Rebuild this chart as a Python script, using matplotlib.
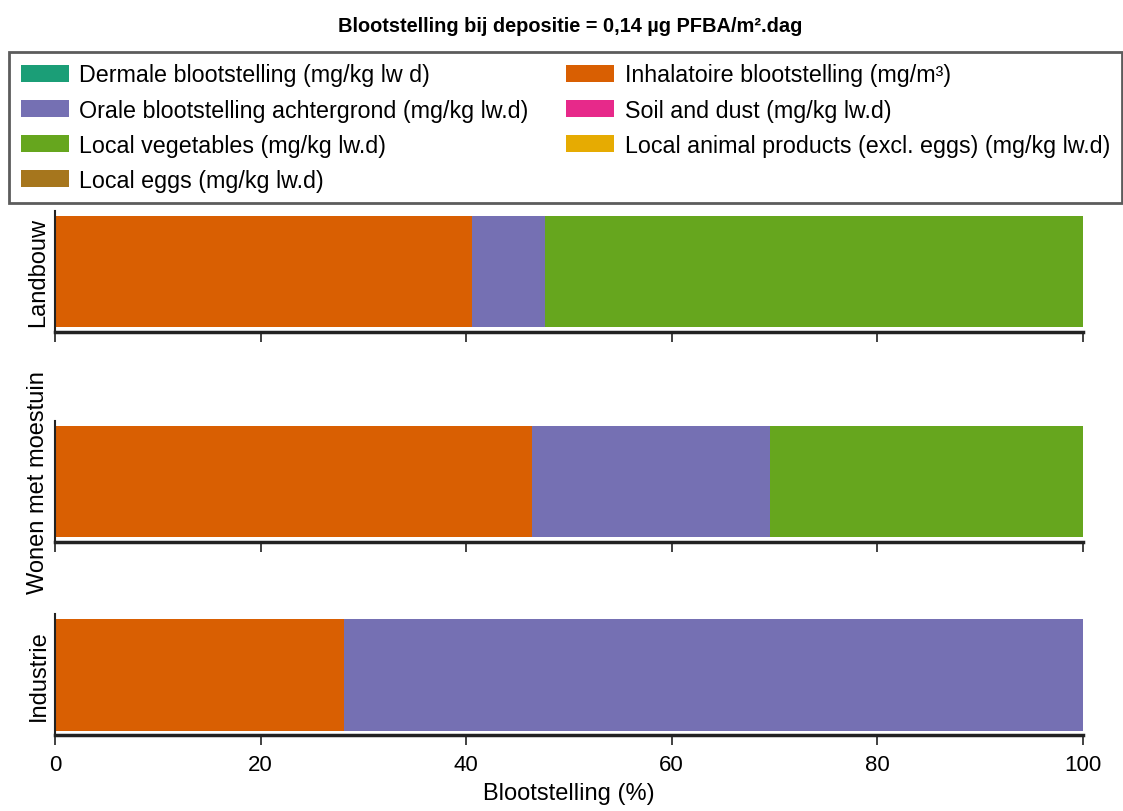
import matplotlib
matplotlib.use("Agg")
import matplotlib.pyplot as plt
import numpy as np

plt.rcParams['font.family'] = ['Liberation Sans', 'DejaVu Sans']

# data: share of exposure (%) per scenario
scenarios = ["Landbouw", "Wonen met moestuin", "Industrie"]
sources = [
    "Dermale blootstelling (mg/kg lw d)",
    "Inhalatoire blootstelling (mg/m³)",
    "Orale blootstelling achtergrond (mg/kg lw.d)",
    "Soil and dust (mg/kg lw.d)",
    "Local vegetables (mg/kg lw.d)",
    "Local animal products (excl. eggs) (mg/kg lw.d)",
    "Local eggs (mg/kg lw.d)",
]
colors = ["#1b9e77", "#d95f02", "#7570b3", "#e7298a", "#66a61e", "#e6ab02", "#a6761d"]

dermaal = [0.0, 0.0, 0.0]
inhalatoir = [40.6, 46.4, 28.1]
oraal = [7.1, 23.2, 71.9]
soil = [0.0, 0.0, 0.0]
groente = [52.3, 30.4, 0.0]
dierlijk = [0.0, 0.0, 0.0]
eieren = [0.0, 0.0, 0.0]
values = [dermaal, inhalatoir, oraal, soil, groente, dierlijk, eieren]

title = "Blootstelling bij depositie = 0,14 µg PFBA/m².dag"
xlabel = "Blootstelling (%)"
xticks = [0, 20, 40, 60, 80, 100]

fig = plt.figure(figsize=(11.23, 8.12), dpi=100)

# axes positions (left, bottom, width, height) in figure fraction
panels = [
    [0.049, 0.590, 0.915, 0.149],
    [0.049, 0.331, 0.915, 0.149],
    [0.049, 0.093, 0.915, 0.149],
]

handles = []
for i, name in enumerate(scenarios):
    ax = fig.add_axes(panels[i])
    left = 0.0
    for j, src in enumerate(sources):
        b = ax.barh(0, values[j][i], left=left, height=0.92, color=colors[j],
                    label=src, linewidth=0)
        left += values[j][i]
        if i == 0:
            handles.append(b)
    ax.set_xlim(0, 100)
    ax.set_ylim(-0.5, 0.5)
    ax.set_yticks([])
    ax.set_xticks(xticks)
    ax.spines['top'].set_visible(False)
    ax.spines['right'].set_visible(False)
    ax.spines['bottom'].set_linewidth(2.5)
    ax.spines['bottom'].set_color('#222222')
    ax.spines['left'].set_linewidth(1.5)
    ax.spines['left'].set_color('#222222')
    ax.tick_params(axis='x', length=7.5, width=1.3, color='#333333',
                   labelsize=16, pad=6)
    ax.set_ylabel(name, fontsize=17, labelpad=4)
    if i < 2:
        ax.tick_params(axis='x', labelbottom=False)
    else:
        ax.set_xlabel(xlabel, fontsize=17, labelpad=5)

fig.text(0.508, 0.967, title, ha='center', va='center', fontsize=14.4, fontweight='bold')

# legend is filled column by column: left column first, then right column
order = [0, 2, 4, 6, 1, 3, 5]
leg = fig.legend([handles[k] for k in order], [sources[k] for k in order],
                 ncol=2, loc='upper left',
                 bbox_to_anchor=(0.008, 0.935), fontsize=16.75,
                 frameon=True, fancybox=False, edgecolor='#333333',
                 handlelength=2.06, handleheight=0.73, labelspacing=0.52,
                 columnspacing=1.6, borderpad=0.5, handletextpad=0.47,
                 borderaxespad=0)
leg.get_frame().set_linewidth(2)

fig.savefig("out.png", dpi=100)
